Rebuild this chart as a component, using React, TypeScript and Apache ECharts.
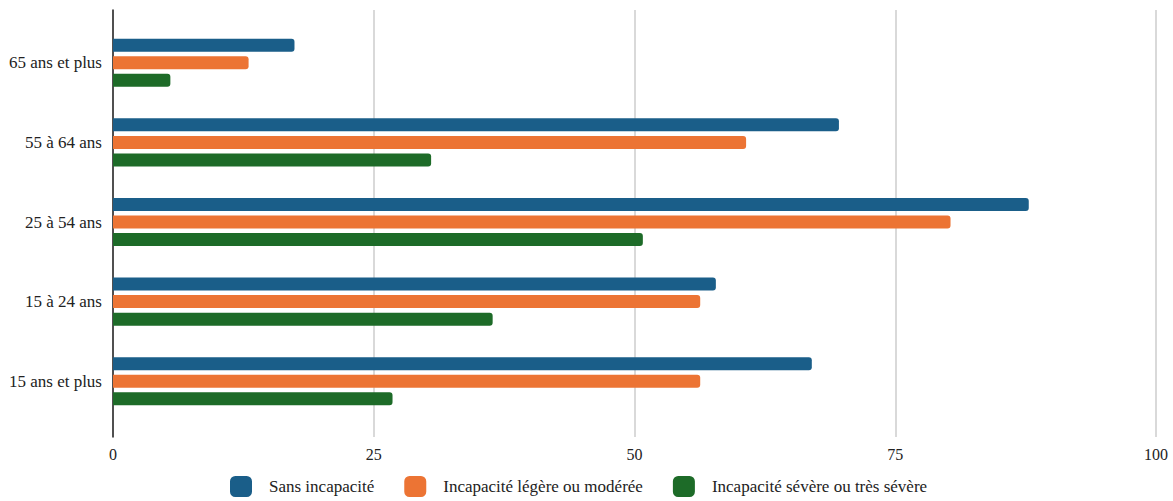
import React, { useEffect, useRef } from "react";
import * as echarts from "echarts";

const categories = ["65 ans et plus", "55 à 64 ans", "25 à 54 ans", "15 à 24 ans", "15 ans et plus"];
const seriesNames = ["Sans incapacité", "Incapacité légère ou modérée", "Incapacité sévère ou très sévère"];
const sansIncapacite = [17.4, 69.6, 87.8, 57.8, 67.0];
const legereModeree = [13.0, 60.7, 80.3, 56.3, 56.3];
const severe = [5.5, 30.5, 50.8, 36.4, 26.8];
const colors = ["#1a5e89", "#ec7434", "#1d6b28"];
const xTicks = [0, 25, 50, 75, 100];

const FONT = "'Liberation Serif', 'DejaVu Serif', serif";

export default function App() {
  const ref = useRef<HTMLDivElement>(null);
  useEffect(() => {
    document.body.style.margin = "0";
    const chart = echarts.init(ref.current!, null, { renderer: "svg" });
    const values = [sansIncapacite, legereModeree, severe];
    chart.setOption({
      animation: false,
      backgroundColor: "#ffffff",
      color: colors,
      textStyle: { fontFamily: FONT },
      legend: {
        data: seriesNames,
        top: 476,
        left: 230,
        padding: 0,
        itemWidth: 22,
        itemHeight: 21,
        itemGap: 30,
        icon: "roundRect",
        textStyle: { fontFamily: FONT, fontSize: 17, lineHeight: 20, color: "#222", padding: [0, 0, 0, 12] },
      },
      grid: [
        { left: 113, right: 17, top: 10, bottom: 64 },
        { left: 113, right: 17, top: 23, height: 398 },
      ],
      xAxis: [
        {
          gridIndex: 0,
          type: "value",
          min: xTicks[0],
          max: xTicks[xTicks.length - 1],
          interval: 25,
          axisLine: { show: false },
          axisTick: { show: false },
          splitLine: { show: true, lineStyle: { color: "#cccccc", width: 1.5 } },
          axisLabel: { fontFamily: FONT, fontSize: 16, color: "#222", margin: 9 },
        },
        {
          gridIndex: 1,
          type: "value",
          min: xTicks[0],
          max: xTicks[xTicks.length - 1],
          show: false,
        },
      ],
      yAxis: [
        {
          gridIndex: 0,
          type: "category",
          data: [""],
          axisLine: { show: true, lineStyle: { color: "#222", width: 1.5 } },
          axisTick: { show: false },
          axisLabel: { show: false },
        },
        {
          gridIndex: 1,
          type: "category",
          data: categories,
          inverse: true,
          axisLine: { show: false },
          axisTick: { show: false },
          axisLabel: { fontFamily: FONT, fontSize: 17, color: "#222", margin: 11 },
        },
      ],
      series: seriesNames.map((name, i) => ({
        name,
        type: "bar",
        xAxisIndex: 1,
        yAxisIndex: 1,
        data: values[i],
        barWidth: 13,
        barGap: "35%",
        itemStyle: { color: colors[i], borderRadius: [0, 3, 3, 0] },
      })),
    });
    return () => chart.dispose();
  }, []);
  return <div ref={ref} style={{ width: 1173, height: 501 }} />;
}
